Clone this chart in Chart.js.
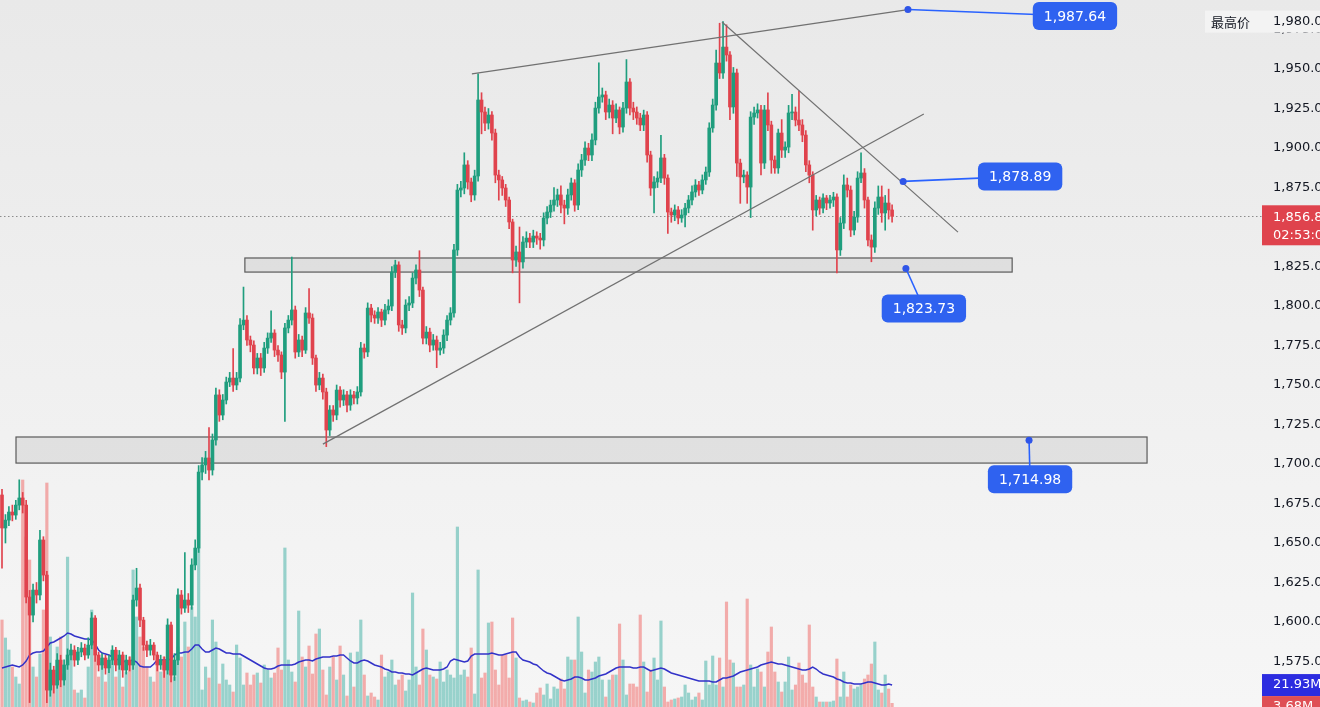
<!DOCTYPE html>
<html>
<head>
<meta charset="utf-8">
<script src="https://cdn.jsdelivr.net/npm/chart.js@4.4.1/dist/chart.umd.min.js"></script>
<style>
  html, body { margin: 0; padding: 0; }
  body { width: 1320px; height: 707px; overflow: hidden; background: linear-gradient(#e9e9e9, #f6f6f6); }
  #wrap { position: relative; width: 1320px; height: 707px; }
</style>
</head>
<body>
<div id="wrap"><canvas id="chart" width="1320" height="707"></canvas></div>
<script>
// candles, one per bar, oldest first
const opens = [
  1680.4, 1659.5, 1664.5, 1669.6, 1667.7, 1674.0, 1678.5, 1674.0, 1615.8, 1604.4,
  1620.2, 1617.1, 1651.9, 1629.7, 1556.9, 1569.6, 1560.1, 1575.9, 1563.3, 1572.8,
  1579.1, 1582.2, 1575.9, 1581.0, 1583.5, 1579.1, 1585.4, 1602.5, 1579.1, 1572.8,
  1577.2, 1570.9, 1575.9, 1582.2, 1572.8, 1579.1, 1569.6, 1575.9, 1572.8, 1613.9,
  1621.5, 1601.2, 1585.4, 1582.2, 1585.4, 1579.1, 1572.8, 1575.9, 1569.6, 1598.1,
  1566.4, 1575.9, 1617.1, 1608.8, 1613.9, 1610.7, 1636.1, 1646.8, 1694.9, 1699.4,
  1703.8, 1696.2, 1715.2, 1743.7, 1731.0, 1740.5, 1751.9, 1754.4, 1750.0, 1754.4,
  1788.0, 1791.1, 1778.5, 1775.3, 1760.8, 1767.1, 1760.8, 1773.4, 1779.7, 1782.9,
  1772.1, 1769.0, 1758.2, 1786.1, 1791.1, 1797.5, 1770.9, 1778.5, 1772.1, 1795.6,
  1792.4, 1767.1, 1750.0, 1754.4, 1745.6, 1721.5, 1734.2, 1731.0, 1746.8, 1740.5,
  1743.7, 1737.3, 1743.7, 1741.8, 1745.6, 1773.4, 1770.9, 1798.7, 1794.3, 1792.4,
  1796.2, 1791.1, 1797.5, 1800.0, 1821.5, 1826.0, 1788.0, 1786.1, 1800.6, 1801.9,
  1817.7, 1822.8, 1810.1, 1779.7, 1783.5, 1775.3, 1778.5, 1772.1, 1773.4, 1781.6,
  1791.1, 1795.6, 1835.5, 1873.4, 1874.7, 1889.3, 1878.5, 1870.3, 1882.3, 1930.4,
  1922.8, 1915.8, 1920.9, 1909.5, 1882.9, 1879.8, 1874.7, 1867.1, 1853.2, 1829.1,
  1834.2, 1827.9, 1840.5, 1843.0, 1840.5, 1844.3, 1843.0, 1841.8, 1855.7, 1859.5,
  1863.9, 1867.1, 1870.3, 1863.9, 1862.0, 1870.3, 1877.9, 1863.9, 1886.1, 1892.4,
  1900.0, 1895.6, 1905.1, 1925.3, 1932.3, 1933.6, 1922.8, 1927.2, 1919.0, 1924.1,
  1913.3, 1925.3, 1941.8, 1925.3, 1922.8, 1919.0, 1914.6, 1920.9, 1895.6, 1874.7,
  1878.5, 1881.0, 1893.7, 1881.0, 1859.5, 1857.6, 1860.8, 1855.7, 1857.6, 1862.0,
  1867.1, 1872.2, 1876.6, 1873.4, 1879.8, 1884.8, 1912.7, 1927.2, 1953.8, 1947.5,
  1963.9, 1958.9, 1926.0, 1947.5, 1890.5, 1881.7, 1882.9, 1875.3, 1919.6, 1922.2,
  1924.1, 1890.5, 1924.1, 1914.6, 1892.4, 1887.4, 1909.5, 1898.7, 1900.6, 1922.2,
  1922.8, 1917.7, 1914.6, 1908.2, 1889.3, 1882.9, 1860.8, 1867.1, 1862.0, 1868.4,
  1865.2, 1867.1, 1869.0, 1835.5, 1852.5, 1876.6, 1873.4, 1848.1, 1856.3, 1881.0,
  1884.2, 1867.1, 1841.8, 1837.3, 1862.0, 1869.0, 1858.9, 1865.2, 1860.8
];
const highs = [
  1684, 1668, 1673, 1674, 1677, 1690, 1682, 1677, 1620, 1624,
  1625, 1658, 1654, 1632, 1574, 1572, 1580, 1579, 1576, 1583,
  1586, 1585, 1584, 1587, 1586, 1590, 1606, 1604, 1581, 1580,
  1579, 1579, 1585, 1584, 1582, 1581, 1579, 1578, 1617, 1634,
  1624, 1603, 1588, 1589, 1587, 1581, 1579, 1578, 1602, 1600,
  1580, 1621, 1620, 1644, 1618, 1640, 1652, 1699, 1704, 1708,
  1723, 1719, 1748, 1747, 1744, 1755, 1758, 1773, 1758, 1792,
  1812, 1794, 1781, 1778, 1770, 1770, 1777, 1783, 1797, 1785,
  1775, 1771, 1789, 1794, 1831, 1800, 1782, 1781, 1799, 1811,
  1795, 1769, 1758, 1757, 1748, 1737, 1737, 1750, 1749, 1747,
  1746, 1747, 1746, 1749, 1777, 1776, 1802, 1801, 1797, 1799,
  1798, 1801, 1804, 1825, 1829, 1828, 1791, 1804, 1806, 1821,
  1826, 1835, 1812, 1787, 1786, 1782, 1781, 1777, 1785, 1794,
  1799, 1839, 1877, 1879, 1897, 1892, 1881, 1886, 1947, 1935,
  1926, 1925, 1923, 1912, 1886, 1882, 1877, 1869, 1855, 1838,
  1850, 1844, 1847, 1846, 1848, 1847, 1846, 1859, 1863, 1867,
  1875, 1874, 1876, 1867, 1874, 1881, 1880, 1890, 1896, 1904,
  1903, 1909, 1929, 1954, 1938, 1936, 1931, 1930, 1928, 1926,
  1929, 1956, 1944, 1929, 1926, 1922, 1924, 1923, 1898, 1882,
  1885, 1908, 1896, 1883, 1862, 1864, 1863, 1861, 1865, 1870,
  1876, 1880, 1879, 1883, 1888, 1916, 1931, 1962, 1979, 1980,
  1978, 1961, 1951, 1950, 1893, 1886, 1885, 1923, 1926, 1928,
  1927, 1927, 1935, 1917, 1895, 1912, 1918, 1904, 1927, 1934,
  1926, 1936, 1918, 1911, 1892, 1885, 1870, 1869, 1871, 1870,
  1870, 1872, 1871, 1856, 1883, 1881, 1876, 1860, 1885, 1897,
  1887, 1869, 1845, 1866, 1876, 1876, 1870, 1874, 1864
];
const lows = [
  1634, 1650, 1661, 1664, 1665, 1671, 1669, 1612, 1549, 1600,
  1612, 1614, 1626, 1549, 1553, 1555, 1558, 1559, 1560, 1570,
  1576, 1572, 1573, 1578, 1576, 1577, 1583, 1575, 1569, 1570,
  1567, 1568, 1573, 1569, 1570, 1565, 1567, 1569, 1570, 1610,
  1597, 1582, 1578, 1579, 1576, 1569, 1570, 1565, 1567, 1562,
  1563, 1573, 1605, 1606, 1606, 1608, 1633, 1644, 1690, 1694,
  1690, 1693, 1712, 1727, 1728, 1738, 1749, 1746, 1747, 1752,
  1785, 1775, 1771, 1757, 1757, 1756, 1758, 1770, 1777, 1768,
  1765, 1754, 1727, 1783, 1788, 1767, 1768, 1768, 1770, 1789,
  1763, 1746, 1747, 1741, 1711, 1718, 1727, 1728, 1736, 1737,
  1733, 1734, 1738, 1738, 1743, 1767, 1768, 1790, 1789, 1789,
  1787, 1788, 1795, 1797, 1818, 1784, 1782, 1783, 1797, 1799,
  1814, 1806, 1776, 1776, 1771, 1772, 1761, 1769, 1770, 1778,
  1788, 1793, 1832, 1869, 1871, 1874, 1866, 1867, 1879, 1909,
  1911, 1912, 1905, 1878, 1867, 1870, 1863, 1849, 1821, 1825,
  1802, 1824, 1837, 1837, 1837, 1839, 1836, 1838, 1852, 1856,
  1860, 1863, 1859, 1852, 1858, 1867, 1860, 1861, 1882, 1889,
  1892, 1892, 1902, 1922, 1929, 1918, 1919, 1909, 1916, 1909,
  1910, 1922, 1921, 1918, 1915, 1911, 1911, 1891, 1870, 1859,
  1875, 1878, 1877, 1846, 1853, 1854, 1852, 1853, 1850, 1859,
  1864, 1869, 1870, 1871, 1877, 1882, 1910, 1924, 1944, 1944,
  1955, 1918, 1922, 1882, 1865, 1878, 1865, 1856, 1915, 1919,
  1883, 1887, 1911, 1884, 1884, 1884, 1894, 1894, 1897, 1918,
  1914, 1911, 1904, 1885, 1878, 1848, 1857, 1858, 1859, 1861,
  1862, 1863, 1821, 1832, 1849, 1869, 1844, 1845, 1853, 1878,
  1862, 1838, 1828, 1834, 1858, 1853, 1848, 1855, 1853
];
const closes = [
  1659.5, 1664.5, 1669.6, 1667.7, 1674.0, 1678.5, 1674.0, 1615.8, 1604.4, 1620.2,
  1617.1, 1651.9, 1629.7, 1556.9, 1569.6, 1560.1, 1575.9, 1563.3, 1572.8, 1579.1,
  1582.2, 1575.9, 1581.0, 1583.5, 1579.1, 1585.4, 1602.5, 1579.1, 1572.8, 1577.2,
  1570.9, 1575.9, 1582.2, 1572.8, 1579.1, 1569.6, 1575.9, 1572.8, 1613.9, 1621.5,
  1601.2, 1585.4, 1582.2, 1585.4, 1579.1, 1572.8, 1575.9, 1569.6, 1598.1, 1566.4,
  1575.9, 1617.1, 1608.8, 1613.9, 1610.7, 1636.1, 1646.8, 1694.9, 1699.4, 1703.8,
  1696.2, 1715.2, 1743.7, 1731.0, 1740.5, 1751.9, 1754.4, 1750.0, 1754.4, 1788.0,
  1791.1, 1778.5, 1775.3, 1760.8, 1767.1, 1760.8, 1773.4, 1779.7, 1782.9, 1772.1,
  1769.0, 1758.2, 1786.1, 1791.1, 1797.5, 1770.9, 1778.5, 1772.1, 1795.6, 1792.4,
  1767.1, 1750.0, 1754.4, 1745.6, 1721.5, 1734.2, 1731.0, 1746.8, 1740.5, 1743.7,
  1737.3, 1743.7, 1741.8, 1745.6, 1773.4, 1770.9, 1798.7, 1794.3, 1792.4, 1796.2,
  1791.1, 1797.5, 1800.0, 1821.5, 1826.0, 1788.0, 1786.1, 1800.6, 1801.9, 1817.7,
  1822.8, 1810.1, 1779.7, 1783.5, 1775.3, 1778.5, 1772.1, 1773.4, 1781.6, 1791.1,
  1795.6, 1835.5, 1873.4, 1874.7, 1889.3, 1878.5, 1870.3, 1882.3, 1930.4, 1922.8,
  1915.8, 1920.9, 1909.5, 1882.9, 1879.8, 1874.7, 1867.1, 1853.2, 1829.1, 1834.2,
  1827.9, 1840.5, 1843.0, 1840.5, 1844.3, 1843.0, 1841.8, 1855.7, 1859.5, 1863.9,
  1867.1, 1870.3, 1863.9, 1862.0, 1870.3, 1877.9, 1863.9, 1886.1, 1892.4, 1900.0,
  1895.6, 1905.1, 1925.3, 1932.3, 1933.6, 1922.8, 1927.2, 1919.0, 1924.1, 1913.3,
  1925.3, 1941.8, 1925.3, 1922.8, 1919.0, 1914.6, 1920.9, 1895.6, 1874.7, 1878.5,
  1881.0, 1893.7, 1881.0, 1859.5, 1857.6, 1860.8, 1855.7, 1857.6, 1862.0, 1867.1,
  1872.2, 1876.6, 1873.4, 1879.8, 1884.8, 1912.7, 1927.2, 1953.8, 1947.5, 1963.9,
  1958.9, 1926.0, 1947.5, 1890.5, 1881.7, 1882.9, 1875.3, 1919.6, 1922.2, 1924.1,
  1890.5, 1924.1, 1914.6, 1892.4, 1887.4, 1909.5, 1898.7, 1900.6, 1922.2, 1922.8,
  1917.7, 1914.6, 1908.2, 1889.3, 1882.9, 1860.8, 1867.1, 1862.0, 1868.4, 1865.2,
  1867.1, 1869.0, 1835.5, 1852.5, 1876.6, 1873.4, 1848.1, 1856.3, 1881.0, 1884.2,
  1867.1, 1841.8, 1837.3, 1862.0, 1869.0, 1858.9, 1865.2, 1860.8, 1856.8
];
// volume in millions, and its moving average
const volumes = [
  87, 69, 57, 40, 30, 23, 227, 170, 147, 40,
  30, 53, 97, 224, 70, 34, 60, 70, 33, 150,
  57, 17, 14, 17, 9, 40, 97, 60, 30, 45,
  25, 40, 55, 30, 45, 20, 35, 50, 137, 90,
  70, 60, 40, 30, 25, 45, 35, 50, 40, 80,
  30, 60, 50, 85, 60, 100, 90, 159, 17, 40,
  29, 87, 65, 23, 43, 27, 22, 15, 62, 49,
  22, 34, 22, 32, 34, 24, 42, 37, 29, 34,
  59, 37, 159, 47, 35, 25, 96, 50, 40, 61,
  33, 73, 78, 37, 12, 40, 50, 27, 61, 32,
  11, 54, 20, 55, 87, 32, 11, 14, 10, 7,
  52, 30, 35, 47, 22, 27, 32, 16, 27, 114,
  40, 22, 78, 57, 32, 30, 28, 45, 25, 37,
  32, 29, 180, 32, 37, 30, 59, 13, 137, 29,
  34, 84, 85, 37, 22, 52, 52, 29, 89, 49,
  9, 6, 7, 5, 4, 14, 19, 12, 23, 8,
  20, 18, 28, 18, 50, 47, 47, 90, 55, 14,
  37, 35, 45, 50, 27, 10, 27, 32, 32, 83,
  47, 12, 23, 23, 20, 92, 45, 15, 37, 49,
  27, 86, 20, 5, 7, 8, 9, 10, 22, 14,
  7, 10, 14, 7, 46, 22, 51, 22, 49, 20,
  105, 47, 44, 20, 20, 22, 108, 42, 20, 38,
  35, 20, 55, 80, 35, 25, 15, 25, 50, 17,
  22, 44, 32, 24, 82, 20, 10, 5, 5, 5,
  5, 6, 48, 10, 35, 10, 22, 18, 20, 22,
  28, 32, 43, 65, 17, 14, 32, 18, 3.68
];
const volumeMA = [
  39, 40, 41, 42, 41, 40, 42, 46, 52, 54,
  55, 55, 56, 60, 64, 65, 67, 69, 71, 74,
  73, 71, 70, 69, 68, 68, 67, 63, 57, 54,
  53, 52, 50, 48, 47, 46, 45, 46, 47, 45,
  41, 40, 40, 40, 43, 47, 47, 47, 47, 48,
  52, 54, 54, 55, 55, 58, 62, 62, 58, 55,
  55, 57, 59, 58, 56, 54, 54, 53, 53, 53,
  51, 49, 47, 45, 43, 41, 39, 38, 38, 39,
  41, 42, 42, 42, 42, 43, 45, 46, 47, 47,
  46, 48, 49, 50, 50, 50, 51, 51, 52, 52,
  49, 46, 44, 44, 46, 47, 46, 44, 42, 41,
  40, 38, 37, 35, 35, 34, 34, 33, 33, 32,
  34, 36, 38, 39, 38, 37, 37, 37, 38, 40,
  46, 48, 47, 46, 45, 46, 51, 53, 53, 53,
  53, 53, 54, 53, 52, 52, 53, 54, 55, 55,
  50, 47, 46, 45, 43, 42, 39, 36, 34, 33,
  31, 29, 27, 26, 27, 28, 30, 30, 29, 27,
  27, 28, 29, 31, 32, 33, 35, 37, 39, 40,
  40, 40, 40, 39, 39, 40, 40, 38, 36, 37,
  38, 39, 38, 36, 34, 33, 32, 31, 30, 29,
  28, 27, 26, 26, 26, 26, 25, 25, 27, 29,
  29, 30, 31, 33, 35, 36, 37, 38, 39, 40,
  42, 43, 44, 45, 44, 43, 43, 42, 41, 40,
  39, 38, 37, 37, 38, 40, 38, 35, 33, 32,
  31, 30, 28, 27, 25, 24, 24, 23, 23, 23,
  24, 25, 25, 24, 23, 22, 22, 23, 21.93
];
const priceTicks = [1575, 1600, 1625, 1650, 1675, 1700, 1725, 1750, 1775, 1800, 1825, 1850, 1875, 1900, 1925, 1950, 1975];

// drawings, in [bar index, price]
const trendLines = [
  [[136.2, 1946.9], [262.6, 1987.64]],
  [[208.7, 1979.8], [277.1, 1846.8]],
  [[93.0, 1712.6], [267.2, 1921.5]]
];
// zones: [from bar, to bar, low price, high price]
const zones = [
  [70.4, 292.8, 1821.5, 1830.4],
  [4.06, 331.9, 1700.6, 1717.1]
];
const priceNotes = [
  { idx: 262.6, price: 1987.64 },
  { idx: 261.2, price: 1878.89 },
  { idx: 262.0, price: 1823.73 },
  { idx: 297.7, price: 1714.98 }
];
const countdown = '02:53:0';

const UP = '#1f9e7e', DOWN = '#e0434d';
const isUp = closes.map((c, i) => c >= opens[i]);
const candleColors = isUp.map(u => u ? UP : DOWN);
const volColors = isUp.map(u => u ? 'rgba(38,166,154,0.45)' : 'rgba(239,83,80,0.45)');

const fmt1 = v => v.toLocaleString('en-US', { minimumFractionDigits: 1, maximumFractionDigits: 1 });
const fmt2 = v => v.toLocaleString('en-US', { minimumFractionDigits: 2, maximumFractionDigits: 2 });

function box(ctx, x, y, w, h, r, color) {
  ctx.fillStyle = color;
  ctx.beginPath();
  if (ctx.roundRect) ctx.roundRect(x, y, w, h, r); else ctx.rect(x, y, w, h);
  ctx.fill();
}

const overlay = {
  id: 'overlay',
  beforeDatasetsDraw(chart) {
    const { ctx, chartArea, scales: { x, y } } = chart;
    ctx.save();
    zones.forEach(z => {
      const x1 = x.getPixelForValue(z[0]), x2 = x.getPixelForValue(z[1]);
      const y1 = y.getPixelForValue(z[3]), y2 = y.getPixelForValue(z[2]);
      ctx.fillStyle = 'rgba(200,200,200,0.4)';
      ctx.fillRect(x1, y1, x2 - x1, y2 - y1);
      ctx.strokeStyle = '#5a5a5a';
      ctx.lineWidth = 1.2;
      ctx.strokeRect(x1, y1, x2 - x1, y2 - y1);
    });
    // last price line
    const yl = Math.round(y.getPixelForValue(closes[closes.length - 1])) + 0.5;
    ctx.strokeStyle = 'rgba(130,130,130,0.9)';
    ctx.lineWidth = 1;
    ctx.setLineDash([1.5, 2.5]);
    ctx.beginPath();
    ctx.moveTo(chartArea.left, yl);
    ctx.lineTo(chartArea.right, yl);
    ctx.stroke();
    ctx.restore();
  },
  afterDraw(chart) {
    const { ctx, chartArea, scales: { x, y, yv } } = chart;
    const right = chartArea.right;
    ctx.save();
    ctx.textBaseline = 'middle';

    // blue price notes
    const offsets = [[167, 6.5], [117, -5], [18, 40], [1, 39]];
    priceNotes.forEach((n, i) => {
      const px = x.getPixelForValue(n.idx), py = y.getPixelForValue(n.price);
      const cx = px + offsets[i][0], cy = py + offsets[i][1];
      ctx.strokeStyle = '#2962ff';
      ctx.lineWidth = 1.6;
      ctx.beginPath();
      ctx.moveTo(px, py);
      ctx.lineTo(cx, cy);
      ctx.stroke();
      ctx.font = '14px "DejaVu Sans"';
      const t = fmt2(n.price);
      const w = ctx.measureText(t).width + 22;
      box(ctx, cx - w / 2, cy - 14, w, 28, 6, '#2f62f0');
      ctx.fillStyle = '#ffffff';
      ctx.textAlign = 'center';
      ctx.fillText(t, cx, cy + 1);
      ctx.fillStyle = '#2f55e8';
      ctx.beginPath();
      ctx.arc(px, py, 3.5, 0, Math.PI * 2);
      ctx.fill();
    });

    ctx.textAlign = 'left';
    // highest price label
    const hi = Math.max(...highs);
    const yh = y.getPixelForValue(hi);
    ctx.fillStyle = '#f3f3f3';
    ctx.fillRect(1205, yh - 11, 1320 - 1205, 22);
    ctx.font = '13px "Noto Sans CJK SC"';
    ctx.fillStyle = '#131722';
    ctx.fillText('最高价', 1211, yh);
    ctx.font = '13px "DejaVu Sans"';
    ctx.fillText(fmt1(hi), right + 11, yh);

    // last price label
    const last = closes[closes.length - 1];
    const yl = y.getPixelForValue(last);
    ctx.fillStyle = '#df434d';
    ctx.fillRect(right, yl - 11, 60, 40);
    ctx.fillStyle = '#ffffff';
    ctx.fillText(fmt1(last), right + 11, yl + 1);
    ctx.fillText(countdown, right + 11, yl + 19);

    // volume labels
    const ym = yv.getPixelForValue(volumeMA[volumeMA.length - 1]);
    ctx.fillStyle = '#2c2ce0';
    ctx.fillRect(right, ym - 11, 60, 22);
    ctx.fillStyle = '#df4f55';
    ctx.fillRect(right, ym + 11, 60, 22);
    ctx.fillStyle = '#ffffff';
    ctx.fillText(volumeMA[volumeMA.length - 1].toFixed(2) + 'M', right + 11, ym);
    ctx.fillText(volumes[volumes.length - 1].toFixed(2) + 'M', right + 11, ym + 22);
    ctx.restore();
  }
};

const idx = closes.map((c, i) => i);

new Chart(document.getElementById('chart'), {
  type: 'bar',
  data: {
    datasets: [
      {
        type: 'line',
        data: trendLines[0].map(p => ({ x: p[0], y: p[1] })),
        borderColor: '#717171', borderWidth: 1.2, pointRadius: 0, order: 0
      },
      {
        type: 'line',
        data: trendLines[1].map(p => ({ x: p[0], y: p[1] })),
        borderColor: '#717171', borderWidth: 1.2, pointRadius: 0, order: 0
      },
      {
        type: 'line',
        data: trendLines[2].map(p => ({ x: p[0], y: p[1] })),
        borderColor: '#717171', borderWidth: 1.2, pointRadius: 0, order: 0
      },
      {
        data: idx.map(i => ({ x: i, y: [opens[i], closes[i]] })),
        backgroundColor: candleColors,
        barThickness: 3, minBarLength: 1, grouped: false, order: 1
      },
      {
        data: idx.map(i => ({ x: i, y: [lows[i], highs[i]] })),
        backgroundColor: candleColors,
        barThickness: 1, grouped: false, order: 2
      },
      {
        type: 'line',
        yAxisID: 'yv',
        data: idx.map(i => ({ x: i, y: volumeMA[i] })),
        borderColor: '#3232c8', borderWidth: 1.5, pointRadius: 0, order: 3
      },
      {
        yAxisID: 'yv',
        data: idx.map(i => ({ x: i, y: volumes[i] })),
        backgroundColor: volColors,
        barThickness: 2.5, grouped: false, order: 4
      }
    ]
  },
  options: {
    responsive: false,
    animation: false,
    devicePixelRatio: 1,
    events: [],
    layout: { padding: 0 },
    plugins: { legend: { display: false }, tooltip: { enabled: false } },
    scales: {
      x: {
        type: 'linear',
        min: -0.58, max: 365.22,
        offset: false,
        display: false
      },
      y: {
        position: 'right',
        min: 1546.2, max: 1993.7,
        grid: { display: false, drawTicks: false },
        border: { display: false },
        afterBuildTicks: s => { s.ticks = priceTicks.map(v => ({ value: v })); },
        afterFit: s => { s.width = 58; s.paddingTop = 0; s.paddingBottom = 0; },
        ticks: {
          padding: 11,
          color: '#131722',
          font: { family: 'DejaVu Sans', size: 13 },
          callback: v => fmt1(v)
        }
      },
      yv: {
        display: false,
        min: 0, max: 707
      }
    }
  },
  plugins: [overlay]
});
</script>
</body>
</html>
